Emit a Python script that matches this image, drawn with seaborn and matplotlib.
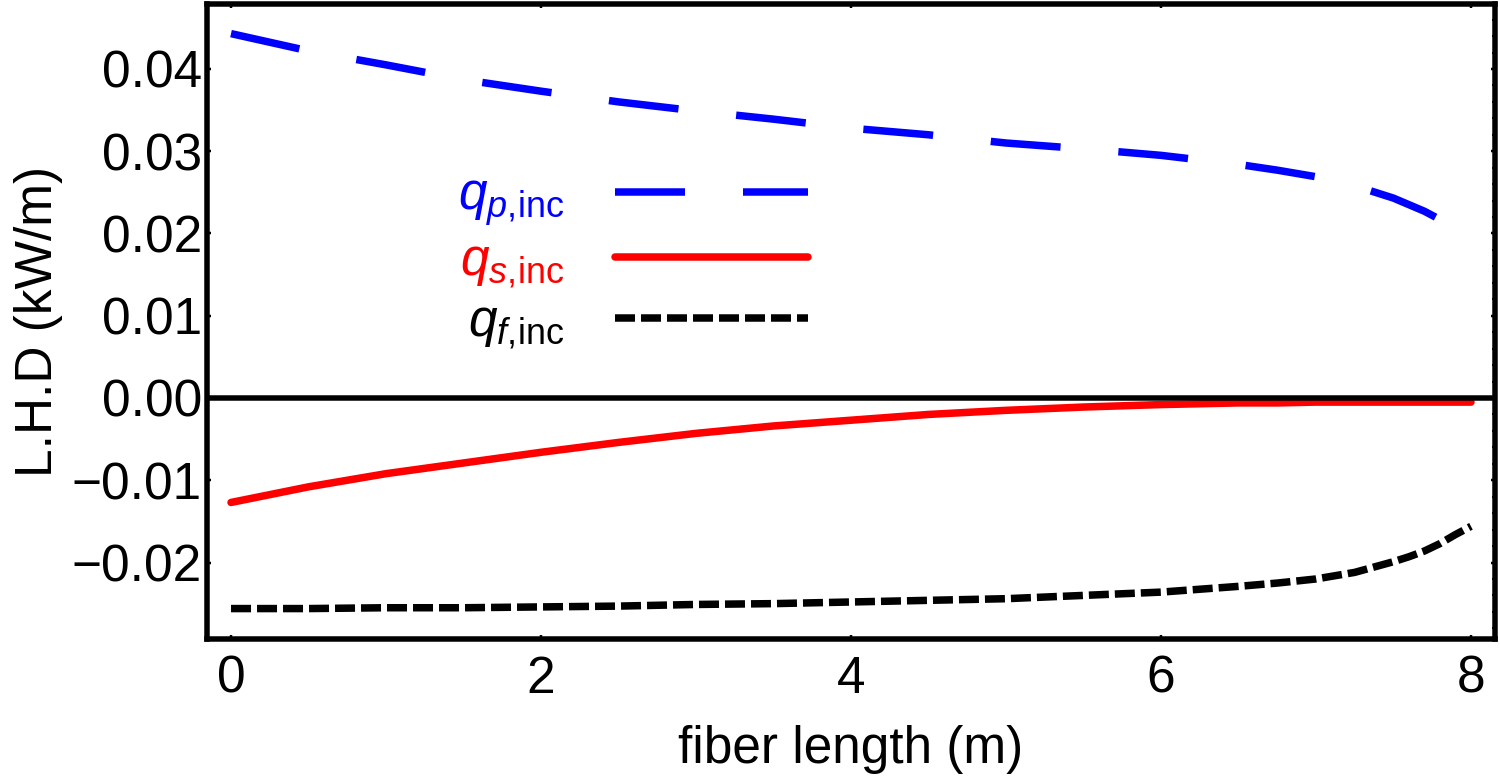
import matplotlib
matplotlib.use("Agg")
import matplotlib.pyplot as plt
import seaborn as sns
from matplotlib.ticker import FixedLocator, FixedFormatter, MultipleLocator

# ---- data ----
fiber_length = [0, 0.5, 1, 1.5, 2, 2.5, 3, 3.5, 4, 4.5, 5, 5.5, 6, 6.5, 6.75,
                7, 7.25, 7.5, 7.6, 7.7, 7.8, 7.9, 8]
q_p_inc = [0.0443, 0.0422, 0.0405, 0.0387, 0.0373, 0.0360, 0.0349, 0.0339, 0.0328, 0.0320,
           0.0310, 0.0303, 0.0295, 0.0284, 0.0277,
           0.0269, 0.0258, 0.0243, 0.0235, 0.0227, 0.0217, 0.0206, 0.0193]
q_s_inc = [-0.0127, -0.0108, -0.0092, -0.0079, -0.0066, -0.0054, -0.0043, -0.0034, -0.0027, -0.0020,
           -0.0015, -0.0011, -0.0008, -0.0006, -0.0006,
           -0.0005, -0.0005, -0.0005, -0.0005, -0.0005, -0.0005, -0.0005, -0.0005]
q_f_inc = [-0.0256, -0.0256, -0.0255, -0.0255, -0.0254, -0.0253, -0.0251, -0.0250, -0.0248, -0.0246,
           -0.0244, -0.0240, -0.0236, -0.0229, -0.0225,
           -0.0220, -0.0212, -0.0199, -0.0193, -0.0186, -0.0177, -0.0166, -0.0156]
series_labels = [r"$q_{p,\!\mathrm{inc}}$", r"$q_{s,\!\mathrm{inc}}$", r"$q_{f,\!\mathrm{inc}}$"]
x_ticks = [0, 2, 4, 6, 8]
x_tick_labels = ["0", "2", "4", "6", "8"]
y_ticks = [-0.02, -0.01, 0.00, 0.01, 0.02, 0.03, 0.04]
y_tick_labels = ["\u22120.02", "\u22120.01", "0.00", "0.01", "0.02", "0.03", "0.04"]
x_label = "fiber length (m)"
y_label = "L.H.D (kW/m)"

# ---- style ----
sns.set_theme(style="white")
plt.rcParams["font.family"] = ["Liberation Sans", "DejaVu Sans"]
plt.rcParams["mathtext.fontset"] = "custom"
plt.rcParams["mathtext.rm"] = "Liberation Sans"
plt.rcParams["mathtext.it"] = "Liberation Sans:italic"
plt.rcParams["mathtext.bf"] = "Liberation Sans:bold"

W, H, DPI = 1500, 778, 100
PT = 72 / DPI  # points per pixel
fig = plt.figure(figsize=(W / DPI, H / DPI), dpi=DPI)
fig.patch.set_facecolor("white")
L, R, T, B = 207, 1495, 4, 639
ax = fig.add_axes([L / W, 1 - B / H, (R - L) / W, (B - T) / H])
ax.set_facecolor("white")

lw_px = 7.5
lw = lw_px * PT
sns.lineplot(x=fiber_length, y=q_p_inc, ax=ax, color="#0000ff", linewidth=lw,
             linestyle=(0, (70 / lw_px, 58 / lw_px)), label=series_labels[0], zorder=3)
sns.lineplot(x=fiber_length, y=q_s_inc, ax=ax, color="#ff0000", linewidth=lw,
             linestyle="-", label=series_labels[1], zorder=3)
sns.lineplot(x=fiber_length, y=q_f_inc, ax=ax, color="black", linewidth=lw,
             linestyle=(0, (20 / lw_px, 6 / lw_px)), label=series_labels[2], zorder=3)

ax.axhline(0, color="black", linewidth=5.5 * PT, zorder=4)

ax.set_xlim(-0.155, 8.155)
ax.set_ylim(-0.0293, 0.0479)

ax.xaxis.set_major_locator(FixedLocator(x_ticks))
ax.xaxis.set_major_formatter(FixedFormatter(x_tick_labels))
ax.yaxis.set_major_locator(FixedLocator(y_ticks))
ax.yaxis.set_major_formatter(FixedFormatter(y_tick_labels))
ax.yaxis.set_minor_locator(MultipleLocator(0.002))

for s in ax.spines.values():
    s.set_visible(True)
    s.set_color("black")
    s.set_linewidth(5.5 * PT)
    s.set_zorder(5)

fs = 37
ax.tick_params(axis="both", which="major", direction="in", length=4 * PT, width=2.5 * PT,
               color="black", labelsize=fs, labelcolor="black",
               top=True, right=True, bottom=True, left=True)
ax.tick_params(axis="y", which="major", pad=3.6)
ax.tick_params(axis="x", which="major", pad=11.5)
ax.tick_params(axis="y", which="minor", direction="in", length=3 * PT, width=2 * PT,
               left=False, right=True, color="black")

ax.set_xlabel(x_label, fontsize=fs, color="black", labelpad=15)
ax.set_ylabel(y_label, fontsize=fs, color="black", labelpad=6.5)

leg = ax.legend(loc="upper right", bbox_to_anchor=(808 / W, 1 - 172 / H),
                bbox_transform=fig.transFigure, markerfirst=False, frameon=False,
                fontsize=fs, handlelength=193 / (fs / PT), handletextpad=50 / (fs / PT),
                labelspacing=0.16, borderpad=0, borderaxespad=0)
for txt, col in zip(leg.get_texts(), ["#0000ff", "#ff0000", "black"]):
    txt.set_color(col)

fig.savefig("out.png", dpi=DPI, facecolor="white")
